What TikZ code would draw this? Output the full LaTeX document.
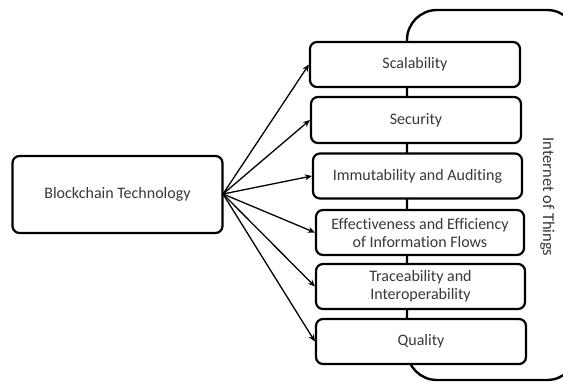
\documentclass[tikz,border=0pt]{standalone}
\usepackage{fontspec}
\setmainfont{Carlito}[Ligatures=NoCommon]
\usetikzlibrary{arrows.meta}
\begin{document}
\begin{tikzpicture}[x=1pt,y=-1pt,
  box/.style={draw=black, line width=2.2pt, rounded corners=7pt, fill=white, align=center,
    text=black!78, font=\fontsize{16}{18}\selectfont, inner sep=0pt},
  arr/.style={-{Stealth[length=7pt,width=6pt]}, line width=1.3pt},
  lbl/.style={text=black!78, font=\fontsize{16.5}{18}\selectfont}]
\useasboundingbox (0,0) rectangle (563,381);
\begin{scope}
\clip (0,0) rectangle (563,381);
\draw[line width=2.4pt, rounded corners=30pt] (407,10) rectangle (577,380);
\end{scope}
\node[box, minimum width=210pt, minimum height=77pt] (bc) at (117.5,194.5) {Blockchain Technology};
\node[box, minimum width=210pt, minimum height=45pt] (s1) at (415,64.5) {Scalability};
\node[box, minimum width=210pt, minimum height=46pt] (s2) at (416,120) {Security};
\node[box, minimum width=209pt, minimum height=45pt] (s3) at (417.5,176) {Immutability and Auditing};
\node[box, minimum width=208pt, minimum height=45pt] (s4) at (420,232.5) {Effectiveness and Efficiency\\of Information Flows};
\node[box, minimum width=209pt, minimum height=45pt] (s5) at (420.5,286.5) {Traceability and\\Interoperability};
\node[box, minimum width=210pt, minimum height=45pt] (s6) at (421,341.5) {Quality};
\node[lbl, rotate=-90] (iot) at (547.5,197) {Internet of Things};
\coordinate (o) at (223,194);
\foreach \t in {s1,s2,s3,s4,s5,s6} \draw[arr] (o) -- (\t.west);
\end{tikzpicture}
\end{document}
